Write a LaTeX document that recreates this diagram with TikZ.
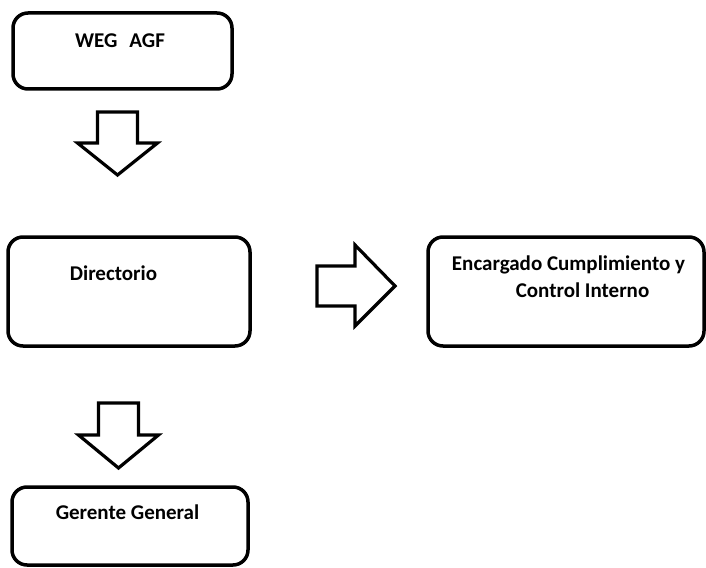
\documentclass[tikz,border=0pt]{standalone}
\usepackage{fontspec}
\setmainfont{Carlito}
\begin{document}
\begin{tikzpicture}[x=1pt,y=-1pt,
  box/.style={draw=black, line width=3.5pt, rounded corners=15pt, fill=white, inner sep=0pt},
  lbl/.style={font=\fontsize{21}{27}\selectfont\bfseries, inner sep=0pt, anchor=base, align=center},
  blockarrow/.style={draw=black, line width=3.2pt, line join=miter, fill=white}]
\useasboundingbox (0,0) rectangle (706,567);
% boxes
\node[box, minimum width=219pt, minimum height=76pt] (b1) at (122.5,51) {};
\node[box, minimum width=242pt, minimum height=109pt] (b2) at (129,291.5) {};
\node[box, minimum width=276pt, minimum height=109pt] (b3) at (566,291.5) {};
\node[box, minimum width=236pt, minimum height=78pt] (b4) at (130,526) {};
% texts
\node[lbl] (t1) at (120,48) {WEG\hspace{12pt}AGF};
\node[lbl] (t2) at (113.5,280) {Directorio};
\node[lbl] (t3) at (568.5,297) {Encargado Cumplimiento y\\\hspace*{28pt}Control Interno};
\node[lbl] (t4) at (127.5,519) {Gerente General};
% block arrows
\coordinate (a1) at (117.5,112);
\coordinate (a2) at (317,286);
\coordinate (a3) at (118.5,403);
\draw[blockarrow] (a1) ++(-20,0) -- ++(40,0) -- ++(0,31) -- ++(20,0) -- ++(-40,32) -- ++(-40,-32) -- ++(20,0) -- cycle;
\draw[blockarrow] (a2) ++(0,-20) -- ++(38,0) -- ++(0,-21) -- ++(40,41) -- ++(-40,40) -- ++(0,-20) -- ++(-38,0) -- cycle;
\draw[blockarrow] (a3) ++(-20,0) -- ++(40,0) -- ++(0,32) -- ++(20,0) -- ++(-40,33) -- ++(-40,-33) -- ++(20,0) -- cycle;
\end{tikzpicture}
\end{document}
